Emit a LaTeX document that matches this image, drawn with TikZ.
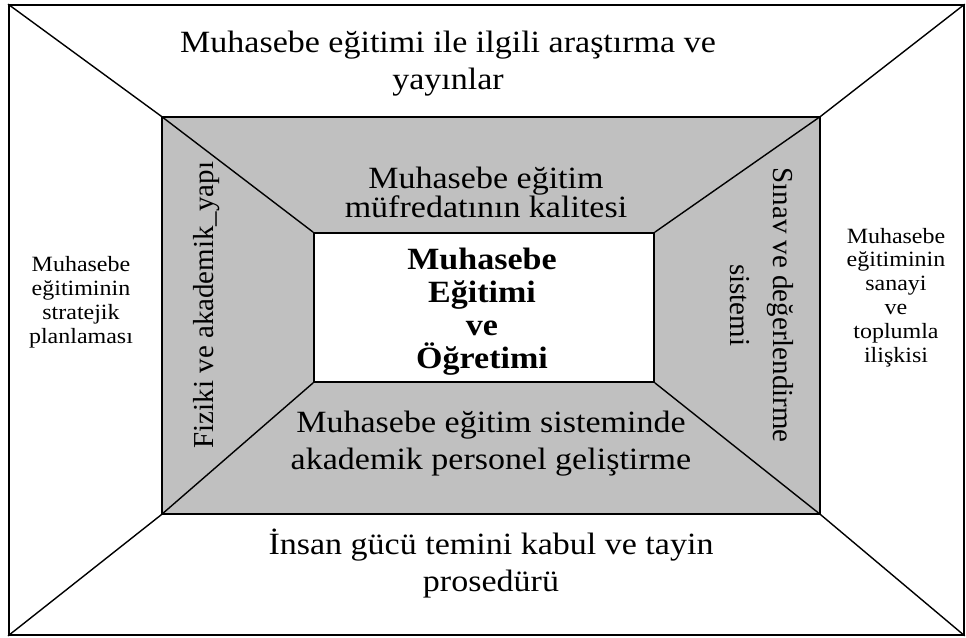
\documentclass[tikz,border=0pt]{standalone}
\usepackage{fontspec}
\setmainfont[FakeStretch=1.1]{Liberation Serif}
\newfontfamily\duzfont{Liberation Serif}
\definecolor{gri}{RGB}{192,192,192}
\tikzset{kutu/.style = {
    shape=rectangle, draw=black, line width=1.2pt, inner sep=0pt
}}
\tikzset{cizgi/.style = {
    draw=black, line width=1pt
}}
\tikzset{yazi/.style = {
    align=center, inner sep=0pt, font=\fontsize{22}{26.3}\selectfont
}}
\tikzset{yanyazi/.style = {
    align=center, inner sep=0pt, font=\fontsize{15.5}{17}\selectfont
}}
\tikzset{dikyazi/.style = {
    align=center, inner sep=0pt, font=\duzfont\fontsize{20.6}{30.6}\selectfont
}}

\begin{document}
\begin{tikzpicture}
  \useasboundingbox (0,0) rectangle (24.15,-15.925);
  \node (dis) at (12.16,-8.0) [kutu, minimum width=23.875cm, minimum height=15.75cm] {};
  \node (orta) at (12.275,-7.8875) [kutu, fill=gri, minimum width=16.45cm, minimum height=9.925cm] {};
  \node (ic) at (12.1,-7.6875) [kutu, fill=white, minimum width=8.5cm, minimum height=3.725cm] {};
  \draw[cizgi] (dis.north west) -- (orta.north west) -- (ic.north west);
  \draw[cizgi] (dis.north east) -- (orta.north east) -- (ic.north east);
  \draw[cizgi] (dis.south west) -- (orta.south west) -- (ic.south west);
  \draw[cizgi] (dis.south east) -- (orta.south east) -- (ic.south east);
  \node (ust) at (11.2,-1.59) [yazi] {Muhasebe eğitimi ile ilgili araştırma ve\\yayınlar};
  \node (alt) at (12.275,-14.09) [yazi] {İnsan gücü temini kabul ve tayin\\prosedürü};
  \node (ortaust) at (12.15,-4.81) [yazi, font=\fontsize{22}{20}\selectfont] {Muhasebe eğitim\\müfredatının kalitesi};
  \node (ortaalt) at (12.275,-11.09) [yazi] {Muhasebe eğitim sisteminde\\akademik personel geliştirme};
  \node (baslik) at (12.05,-7.8) [yazi, font=\bfseries\fontsize{22}{23.5}\selectfont] {Muhasebe\\Eğitimi\\ve\\Öğretimi};
  \node (sol) at (2.025,-7.56) [yanyazi] {Muhasebe\\eğitiminin\\stratejik\\planlaması};
  \node (sag) at (22.4,-7.44) [yanyazi] {Muhasebe\\eğitiminin\\sanayi\\ve\\toplumla\\ilişkisi};
  \node (soldik) at (5.175,-7.625) [dikyazi, rotate=90] {Fiziki ve akademik\_yapı};
  \node (sagdik) at (19.05,-7.63) [dikyazi, rotate=-90] {Sınav ve değerlendirme\\sistemi};
\end{tikzpicture}
\end{document}
